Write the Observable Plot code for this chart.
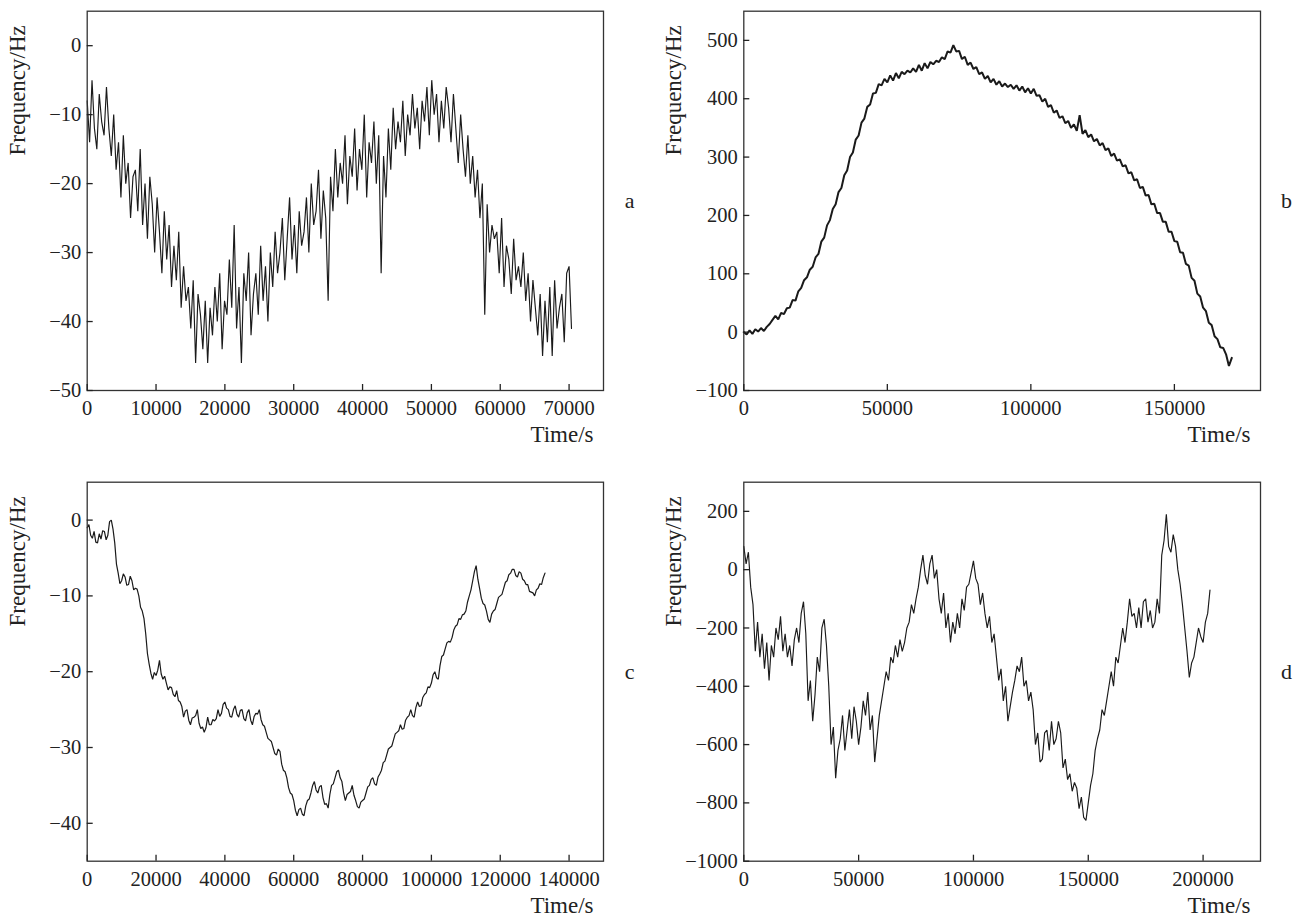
<!DOCTYPE html>
<html><head><meta charset="utf-8">
<script src="https://cdn.jsdelivr.net/npm/d3@7"></script>
<script src="https://cdn.jsdelivr.net/npm/@observablehq/plot@0.6"></script>
<style>
body{margin:0;background:#fff;}
#wrap{position:relative;width:1301px;height:915px;background:#fff;}
#wrap svg{position:absolute;}
</style></head><body><div id="wrap"></div>
<script>
// ---------- data ----------
const aStep = 350; // s between samples, panel a
const aFreq = [
 -8,-14,-5,-12,-15,-7,-11,-13,-6,-12,
 -16,-10,-18,-14,-22,-13,-20,-17,-25,-19,
 -18,-24,-15,-26,-20,-28,-19,-23,-30,-22,
 -27,-33,-24,-31,-26,-35,-29,-34,-27,-38,
 -32,-37,-35,-41,-34,-46,-36,-39,-44,-37,
 -46,-38,-42,-35,-40,-33,-44,-37,-39,-31,
 -38,-26,-41,-35,-46,-33,-37,-30,-42,-36,
 -33,-39,-29,-37,-32,-40,-30,-35,-27,-33,
 -30,-25,-34,-28,-22,-31,-26,-33,-24,-29,
 -27,-22,-30,-20,-26,-24,-18,-28,-21,-25,
 -37,-19,-24,-15,-22,-17,-20,-13,-23,-16,
 -19,-12,-21,-15,-18,-10,-22,-14,-17,-11,
 -20,-13,-33,-16,-22,-12,-18,-9,-15,-11,
 -14,-8,-16,-10,-13,-7,-12,-9,-15,-8,
 -11,-6,-13,-5,-10,-7,-14,-8,-12,-6,
 -9,-14,-7,-12,-17,-10,-15,-19,-13,-20,
 -16,-22,-18,-25,-20,-39,-23,-30,-26,-28,
 -27,-33,-25,-35,-29,-31,-36,-28,-34,-32,
 -35,-30,-37,-33,-40,-34,-38,-42,-36,-45,
 -37,-43,-35,-45,-34,-41,-38,-36,-43,-33,
 -32,-41
];

const bStep = 1000;
const bFreq = [
 0,-4,3,-3,5,1,7,2,9,14,
 21,28,22,33,31,41,42,55,54,70,
 76,89,94,107,112,128,134,155,162,183,
 192,211,219,240,247,269,277,300,308,330,
 337,359,366,386,390,409,410,425,423,434,
 428,440,431,444,435,446,442,448,445,452,
 446,458,448,461,452,463,459,465,463,471,
 468,481,479,492,481,482,468,472,458,462,
 451,454,442,445,434,439,428,434,424,430,
 421,426,420,424,417,423,414,421,411,418,
 409,417,405,406,395,400,386,389,376,380,
 367,370,358,362,350,356,345,372,340,346,
 334,339,327,331,320,324,312,315,302,306,
 294,296,284,286,272,274,260,262,247,249,
 234,235,219,220,204,204,189,189,172,172,
 156,155,137,136,117,114,93,88,66,61,
 42,36,16,12,-7,-12,-26,-27,-38,-58,
 -44
];

const cStep = 500;
const cFreq = [
 -1,-0.6,-2,-2.4,-1.5,-2.9,-3,-1.8,-2.5,-1.4,-1.5,-2.6,-2,-0.2,0,-1.2,-3,-5.8,-7,-8.4,
 -8,-7.1,-7.5,-8.6,-8.5,-7.4,-8,-9.2,-9,-9.1,-10,-11.5,-12,-13,-15,-17.6,-19,-20.2,-21,-20.1,
 -20.5,-19.8,-18.5,-20.3,-21,-20.6,-21.5,-22.4,-22,-22.1,-23,-23.3,-22.5,-23.8,-24,-24.6,-26,-25.2,-25,-26.4,
 -27,-26.1,-26,-25.8,-25,-26.8,-27.5,-27.3,-28,-27.4,-26,-27.0,-27,-26.3,-26.5,-26.2,-25,-25.9,-25.5,-24.3,
 -24,-24.8,-25,-25.9,-26,-25.0,-24.5,-25.6,-26,-25.1,-25,-26.2,-26.5,-25.4,-25,-26.4,-27,-25.9,-25.5,-25.6,
 -25,-26.3,-27,-27.2,-28,-28.8,-29,-29.2,-30,-30.8,-31,-30.2,-30.5,-32.2,-33,-33.2,-34,-35.3,-36,-36.2,
 -37,-38.3,-39,-38.2,-38,-38.8,-39,-37.7,-37,-36.8,-36,-35.0,-34.5,-35.6,-36,-35.2,-35,-36.6,-37.5,-37.4,
 -38,-36.2,-35,-34.8,-34,-33.2,-33,-34.0,-34.5,-36.0,-37,-36.2,-36,-35.8,-35,-36.3,-37,-37.8,-38,-37.2,
 -37,-36.8,-36,-35.2,-35,-34.2,-34,-34.8,-35,-33.9,-33.5,-33.0,-32,-31.8,-31,-30.2,-30,-29.8,-29,-28.2,
 -28,-27.8,-27,-27.6,-27.5,-26.4,-26,-25.8,-25,-25.8,-26,-24.7,-24,-24.6,-24.5,-23.4,-23,-22.8,-22,-22.1,
 -21.5,-20.4,-20,-20.8,-21,-19.2,-18,-17.8,-17,-16.2,-16,-16.1,-15.5,-14.5,-14,-13.8,-13,-13.1,-12.5,-12.4,
 -12,-10.8,-10,-9.2,-8,-6.8,-6,-7.8,-9,-10.3,-11,-11.2,-12,-13.1,-13.5,-12.4,-12,-11.8,-11,-10.2,
 -10,-9.8,-9,-8.2,-8,-7.2,-7,-6.5,-6.5,-7.3,-7.5,-6.8,-7,-7.8,-8,-8.5,-8.5,-9.4,-9.5,-9.6,
 -10,-9.2,-9,-8.4,-8.5,-7.6,-7
];

const dStep = 1000;
const dFreq = [
 80,20,60,-60,-120,-280,-180,-300,-220,-340,
 -250,-380,-260,-300,-200,-240,-160,-280,-220,-300,
 -260,-330,-240,-200,-250,-150,-110,-220,-450,-380,
 -520,-430,-300,-350,-200,-170,-260,-400,-600,-540,
 -715,-620,-580,-500,-620,-550,-480,-580,-470,-520,
 -600,-540,-450,-500,-420,-550,-500,-660,-580,-500,
 -450,-400,-350,-380,-300,-320,-260,-300,-240,-280,
 -250,-200,-180,-120,-150,-100,-60,0,50,-20,
 -50,20,50,-30,0,-100,-150,-80,-200,-150,
 -250,-180,-220,-150,-200,-100,-140,-60,-50,-10,
 30,-30,-50,-120,-80,-150,-200,-160,-250,-220,
 -300,-380,-340,-450,-400,-520,-470,-420,-380,-330,
 -350,-300,-400,-380,-450,-420,-480,-600,-560,-660,
 -650,-560,-550,-620,-520,-600,-580,-520,-560,-680,
 -650,-720,-700,-760,-730,-750,-820,-780,-850,-860,
 -800,-740,-700,-620,-580,-550,-480,-500,-450,-400,
 -350,-400,-300,-320,-260,-200,-250,-180,-100,-160,
 -150,-200,-130,-200,-110,-100,-180,-140,-200,-180,
 -100,-150,50,100,190,80,60,120,80,0,
 -50,-120,-200,-280,-370,-320,-300,-250,-200,-230,
 -250,-180,-150,-70
];

const aXTicks = [0,10000,20000,30000,40000,50000,60000,70000];
const aYTicks = [-50,-40,-30,-20,-10,0];
const bXTicks = [0,50000,100000,150000];
const bYTicks = [-100,0,100,200,300,400,500];
const cXTicks = [0,20000,40000,60000,80000,100000,120000,140000];
const cYTicks = [-40,-30,-20,-10,0];
const dXTicks = [0,50000,100000,150000,200000];
const dYTicks = [-1000,-800,-600,-400,-200,0,200];

const yLabel = "Frequency/Hz";
const xLabel = "Time/s";
const letters = ["a","b","c","d"];

// ---------- layout ----------
const panels = [
 {values:aFreq, step:aStep, letter:letters[0], xDomain:[0,75000], yDomain:[-50,5], xTicks:aXTicks, yTicks:aYTicks, sw:1.15,
  left:0, top:0, width:650, height:457, mt:10.7, mr:47, mb:67, ml:86.7},
 {values:bFreq, step:bStep, letter:letters[1], xDomain:[0,180000], yDomain:[-100,550], xTicks:bXTicks, yTicks:bYTicks, sw:2,
  left:650, top:0, width:651, height:457, mt:10.7, mr:41, mb:67, ml:93.3},
 {values:cFreq, step:cStep, letter:letters[2], xDomain:[0,150000], yDomain:[-45,5], xTicks:cXTicks, yTicks:cYTicks, sw:1.2,
  left:0, top:457, width:650, height:458, mt:24.7, mr:47, mb:54.3, ml:86.7},
 {values:dFreq, step:dStep, letter:letters[3], xDomain:[0,225000], yDomain:[-1000,300], xTicks:dXTicks, yTicks:dYTicks, sw:1.15,
  left:650, top:457, width:651, height:458, mt:24.7, mr:41, mb:54.3, ml:93.3}
];

const fmt = d3.format("d");
const wrap = document.getElementById("wrap");
for (const p of panels) {
  const data = p.values.map((v, i) => ({t: i * p.step, f: v}));
  const svg = Plot.plot({
    width: p.width, height: p.height,
    marginTop: p.mt, marginRight: p.mr, marginBottom: p.mb, marginLeft: p.ml,
    style: {fontFamily: "'Liberation Serif','Times New Roman',serif", fontSize: "20.5px", color: "#222", background: "transparent", overflow: "visible"},
    x: {domain: p.xDomain, label: null},
    y: {domain: p.yDomain, label: null},
    marks: [
      Plot.line(data, {x: "t", y: "f", stroke: "#1a1a1a", strokeWidth: p.sw, strokeLinejoin: "miter"}),
      Plot.frame({stroke: "#333", strokeWidth: 1.3}),
      Plot.axisX({ticks: p.xTicks, tickFormat: fmt, tickSize: -6, tickPadding: 16, strokeWidth: 1.3, label: null}),
      Plot.axisY({ticks: p.yTicks, tickFormat: fmt, tickSize: -6, tickPadding: 12, strokeWidth: 1.3, label: null}),
      Plot.text([yLabel], {frameAnchor: "top-left", rotate: -90, textAnchor: "end", lineAnchor: "middle", dx: -70, dy: 14, fontSize: 23, fill: "#222"}),
      Plot.text([xLabel], {frameAnchor: "bottom-right", textAnchor: "end", lineAnchor: "middle", dx: -10, dy: 44, fontSize: 23, fill: "#222"}),
      Plot.text([p.letter], {frameAnchor: "right", textAnchor: "middle", lineAnchor: "middle", dx: 26, fontSize: 22, fill: "#222"})
    ]
  });
  svg.style.left = p.left + "px";
  svg.style.top = p.top + "px";
  wrap.appendChild(svg);
}
</script></body></html>
